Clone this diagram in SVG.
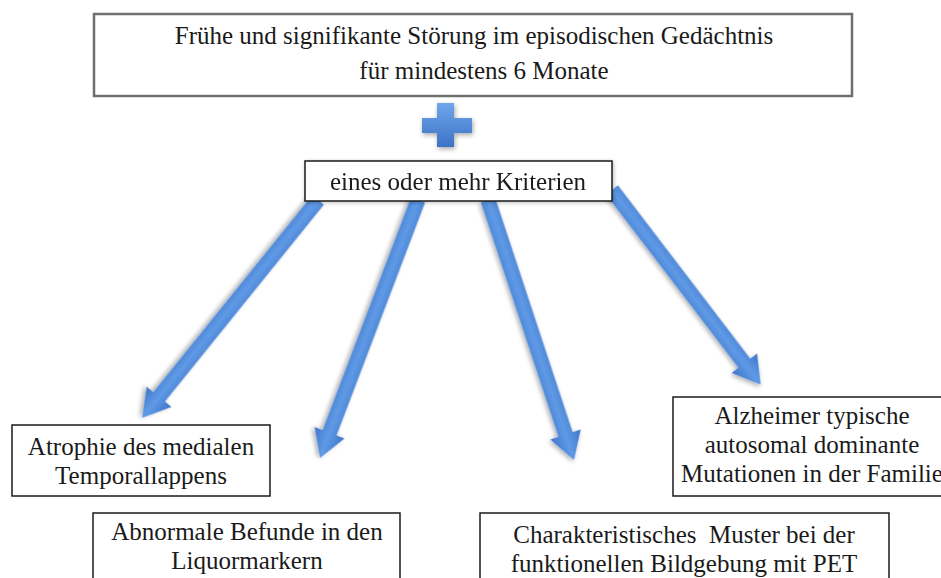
<svg xmlns="http://www.w3.org/2000/svg" width="941" height="578" viewBox="0 0 941 578">
  <style>
    .box { fill: #ffffff; stroke: #1a1a1a; stroke-width: 1.5; }
    .box-top { fill: #ffffff; stroke: #6f6f6f; stroke-width: 2.5; }
    text { font-family: 'Liberation Serif', 'DejaVu Serif', 'Times New Roman', serif; font-size: 25px; fill: #1a1a1a; text-anchor: middle; white-space: pre; }
    .arrow { fill: url(#blueBand); filter: url(#softShadow); }
  </style>
  <defs>
    <linearGradient id="blueBand" x1="0" y1="0" x2="0" y2="1">
      <stop offset="0" stop-color="#3f76c8"/>
      <stop offset="0.5" stop-color="#5f9ae6"/>
      <stop offset="1" stop-color="#3f76c8"/>
    </linearGradient>
    <linearGradient id="plusFill" x1="0" y1="0" x2="0" y2="1">
      <stop offset="0" stop-color="#6fa6ec"/>
      <stop offset="1" stop-color="#3c73c6"/>
    </linearGradient>
    <filter id="softShadow" x="-20%" y="-20%" width="140%" height="140%">
      <feGaussianBlur in="SourceAlpha" stdDeviation="2.5"/>
      <feOffset dx="1" dy="2" result="blur"/>
      <feComponentTransfer><feFuncA type="linear" slope="0.35"/></feComponentTransfer>
      <feMerge><feMergeNode/><feMergeNode in="SourceGraphic"/></feMerge>
    </filter>
    <filter id="boxShadow" x="-5%" y="-10%" width="110%" height="130%">
      <feGaussianBlur in="SourceAlpha" stdDeviation="2"/>
      <feOffset dx="1" dy="1"/>
      <feComponentTransfer><feFuncA type="linear" slope="0.25"/></feComponentTransfer>
      <feMerge><feMergeNode/><feMergeNode in="SourceGraphic"/></feMerge>
    </filter>
  </defs>

  <rect width="941" height="578" fill="#ffffff"/>

  <!-- main criterion -->
  <g id="core-criterion">
    <rect class="box-top" x="94" y="14" width="758" height="82"/>
    <text x="474" y="44">Frühe und signifikante Störung im episodischen Gedächtnis</text>
    <text x="484" y="79">für mindestens 6 Monate</text>
  </g>

  <!-- plus sign -->
  <g id="plus" filter="url(#softShadow)">
    <path d="M437 103 H454 V118 H472 V133 H454 V147 H437 V133 H422 V118 H437 Z" fill="url(#plusFill)"/>
  </g>

  <!-- connectors: block arrows from the supporting-criteria box -->
  <g id="connectors">
    <!-- (318,200) -> (142,418) -->
    <path class="arrow" transform="translate(318 200) rotate(128.91)" d="M0 -7.5 H253 V-16 L280 0 L253 16 V7.5 H0 Z"/>
    <!-- (418,200) -> (320,458) -->
    <path class="arrow" transform="translate(418 200) rotate(110.80)" d="M0 -7.5 H249 V-16 L276 0 L249 16 V7.5 H0 Z"/>
    <!-- (488,200) -> (574,460) -->
    <path class="arrow" transform="translate(488 200) rotate(71.70)" d="M0 -7.5 H247 V-16 L274 0 L247 16 V7.5 H0 Z"/>
    <!-- (612,190) -> (761,385) -->
    <path class="arrow" transform="translate(612 190) rotate(52.62)" d="M0 -7.5 H218 V-16 L245 0 L218 16 V7.5 H0 Z"/>
  </g>

  <g id="supporting-criteria" filter="url(#boxShadow)">
    <rect class="box" x="305" y="161" width="307" height="40"/>
    <text x="458" y="190">eines oder mehr Kriterien</text>
  </g>

  <g id="atrophy">
    <rect class="box" x="12" y="425" width="258" height="71"/>
    <text x="141" y="455">Atrophie des medialen</text>
    <text x="141" y="484">Temporallappens</text>
  </g>

  <g id="csf-markers">
    <rect class="box" x="93" y="513" width="307" height="80"/>
    <text x="247" y="540">Abnormale Befunde in den</text>
    <text x="247" y="569">Liquormarkern</text>
  </g>

  <g id="pet-imaging">
    <rect class="box" x="480" y="513" width="409" height="80"/>
    <text x="684" y="543">Charakteristisches  Muster bei der</text>
    <text x="684" y="572">funktionellen Bildgebung mit PET</text>
  </g>

  <g id="familial-mutations">
    <rect class="box" x="673" y="397" width="290" height="99"/>
    <text x="812" y="424">Alzheimer typische</text>
    <text x="812" y="453">autosomal dominante</text>
    <text x="812" y="482">Mutationen in der Familie</text>
  </g>
</svg>
